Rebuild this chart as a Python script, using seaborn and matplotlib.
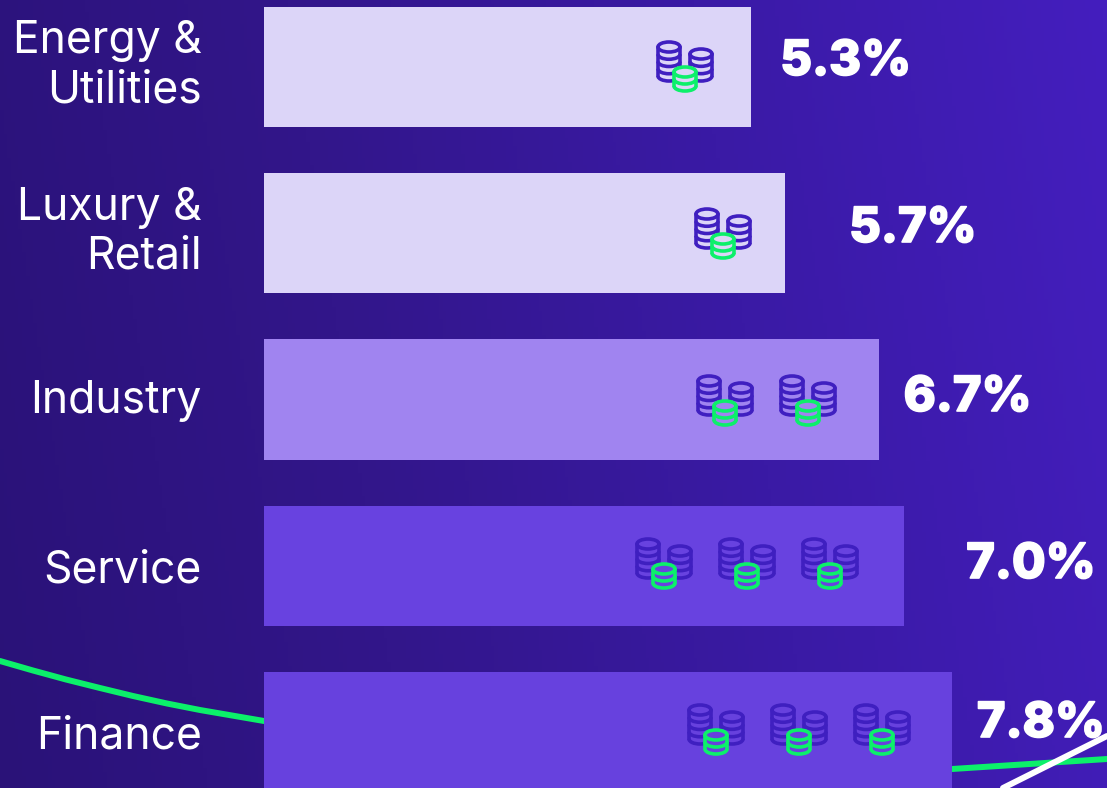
import numpy as np
import pandas as pd
import matplotlib
matplotlib.use('Agg')
import matplotlib.pyplot as plt
import matplotlib.patheffects as pe
from matplotlib.colors import LinearSegmentedColormap
from matplotlib.patches import Ellipse, Arc, Rectangle
from matplotlib.transforms import ScaledTranslation
import seaborn as sns

sectors = ['Energy &\nUtilities', 'Luxury &\nRetail', 'Industry', 'Service', 'Finance']
# bar lengths as measured on the picture, printed labels are kept apart
bar_values = [5.32, 5.69, 6.71, 6.99, 7.51]
value_labels = ['5.3%', '5.7%', '6.7%', '7.0%', '7.8%']
bar_colors = ['#DCD5F8', '#DCD5F8', '#A084F0', '#6842E0', '#6741DE']

# pixel readings from the reference
tick_shift = [9, 9, 3, 0, 0]
label_gap = [29, 64, 25, 62, 25]
label_y = [62, 229, 398, 565, 724]
icon_x = [[685], [723], [725, 808], [664, 747, 830], [716, 799, 882]]
icon_top = [40, 207, 374, 537, 703]
green_x = [0, 33, 66, 100, 133, 167, 200, 232, 264, 952, 1107]
green_y = [661, 670.5, 679.5, 688, 696, 703.5, 710, 715.5, 721, 769, 759]
white_x = [1003, 1107]
white_y = [788, 736]

PURPLE = '#3F1FC0'
GREEN = '#0CF06A'
PX = 72 / 100

sns.set_theme(style='white')
plt.rcParams['font.family'] = ['Inter', 'DejaVu Sans']

fig = plt.figure(figsize=(11.07, 7.88), dpi=100)

# background
bg = fig.add_axes([0, 0, 1, 1], zorder=0)
cmap = LinearSegmentedColormap.from_list('bg', ['#2A1278', '#32168A', '#3A1AA5', '#441EBE'])
xx, yy = np.meshgrid(np.linspace(0, 1, 300), np.linspace(0, 1, 200))
bg.imshow(xx * 0.9 + (1 - yy) * 0.1, cmap=cmap, extent=(0, 1107, 788, 0), aspect='auto', vmin=0, vmax=1)
green_df = pd.DataFrame({'x': green_x, 'y': green_y})
left = green_df[green_df.x <= 264]
right = green_df[green_df.x >= 952]
sns.lineplot(data=left, x='x', y='y', color=GREEN, lw=6 * PX, ax=bg, errorbar=None)
sns.lineplot(data=right, x='x', y='y', color=GREEN, lw=6 * PX, ax=bg, errorbar=None)
sns.lineplot(x=white_x, y=white_y, color='white', lw=6 * PX, ax=bg, errorbar=None)
bg.set_xlim(0, 1107)
bg.set_ylim(788, 0)
bg.axis('off')

# bars
ax = fig.add_axes([264 / 1107, 0, 843 / 1107, 1], zorder=1)
ax.patch.set_alpha(0)
df = pd.DataFrame({'sector': sectors, 'value': bar_values})
sns.barplot(data=df, x='value', y='sector', hue='sector', palette=bar_colors, saturation=1,
            width=0.722, legend=False, dodge=False, linewidth=0, ax=ax)
ax.set_xlim(0, 843 / 91.6)
ax.set_ylim(4.337, -0.403)
ax.set_xlabel('')
ax.set_ylabel('')
ax.set_xticks([])
sns.despine(ax=ax, left=True, bottom=True)
ax.tick_params(axis='y', length=0, pad=62 * PX)
for lab, shift in zip(ax.get_yticklabels(), tick_shift):
    lab.set_color('white')
    lab.set_fontsize(32)
    lab.set_fontweight('normal')
    lab.set_linespacing(1.2)
    lab.set_ha('right')
    lab.set_transform(lab.get_transform() + ScaledTranslation(0, shift / 100, fig.dpi_scale_trans))

for v, txt, gap, ly in zip(bar_values, value_labels, label_gap, label_y):
    ax.annotate(txt, xy=(v, 0), xycoords=('data', 'axes fraction'), xytext=(gap * PX, (788 - ly) * PX),
                textcoords='offset points', color='white', fontsize=35, fontweight=800,
                ha='left', va='center', zorder=6,
                path_effects=[pe.withStroke(linewidth=1.2, foreground='white')])

# coin icons, overlay in pixel space
ov = fig.add_axes([0, 0, 1, 1], zorder=2)
ov.patch.set_alpha(0)
ov.set_xlim(0, 1107)
ov.set_ylim(788, 0)
ov.axis('off')


def coin_stack(cx, top, bottom, color, fill, z):
    rx, ry, lw = 11, 5, 3.6 * PX
    cy = top + ry
    ov.add_patch(Rectangle((cx - rx, cy), 2 * rx, bottom - cy, fc=fill, ec='none', zorder=z))
    ov.add_patch(Ellipse((cx, bottom), 2 * rx, 2 * ry, fc=fill, ec='none', zorder=z))
    ov.plot([cx - rx, cx - rx], [cy, bottom], color=color, lw=lw, zorder=z, solid_capstyle='round')
    ov.plot([cx + rx, cx + rx], [cy, bottom], color=color, lw=lw, zorder=z, solid_capstyle='round')
    ov.add_patch(Ellipse((cx, cy), 2 * rx, 2 * ry, fc=fill, ec=color, lw=lw, zorder=z))
    n = max(1, int(round((bottom - cy) / 7.5)))
    for y in np.linspace(cy, bottom, n + 1)[1:]:
        ov.add_patch(Arc((cx, y), 2 * rx, 2 * ry, theta1=0, theta2=180, color=color, lw=lw, zorder=z))


for xs, top, fill in zip(icon_x, icon_top, bar_colors):
    for cx in xs:
        coin_stack(cx - 16, top + 2, top + 36, PURPLE, fill, 3)
        coin_stack(cx + 16, top + 9, top + 36, PURPLE, fill, 4)
        coin_stack(cx, top + 27, top + 46, GREEN, fill, 5)

fig.savefig('out.png', dpi=100)
